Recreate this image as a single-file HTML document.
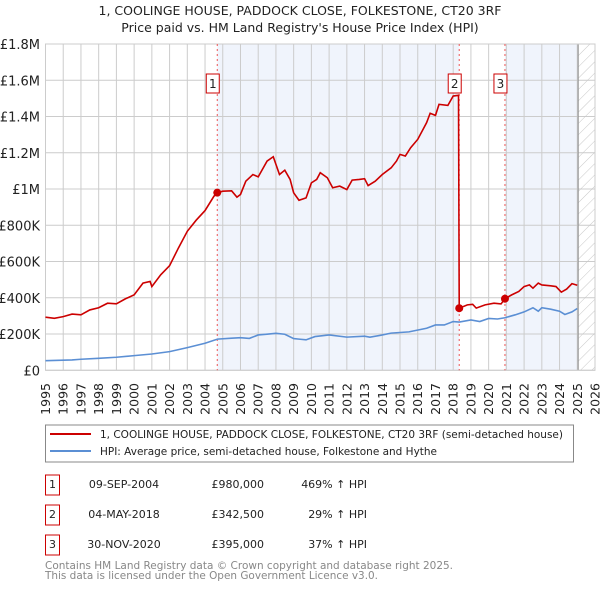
<!DOCTYPE html>
<html><head><meta charset="utf-8"><style>
body{margin:0;background:#fff;}
svg{display:block;font-family:"DejaVu Sans","Liberation Sans",sans-serif;}
</style></head><body>
<svg id="chart" width="600" height="590" viewBox="0 0 600 590" xmlns="http://www.w3.org/2000/svg">
<defs>
<pattern id="hatch" patternUnits="userSpaceOnUse" width="8" height="8" patternTransform="rotate(45)">
<line x1="0" y1="0" x2="0" y2="8" stroke="#c8c8c8" stroke-width="1"/>
</pattern>
</defs>
<text x="300" y="15" text-anchor="middle" font-size="12.5" fill="#222">1, COOLINGE HOUSE, PADDOCK CLOSE, FOLKESTONE, CT20 3RF</text>
<text x="300" y="32" text-anchor="middle" font-size="12.5" fill="#222">Price paid vs. HM Land Registry's House Price Index (HPI)</text>
<g id="plot"></g>
<g>
<rect x="45.5" y="425" width="528" height="37" fill="#fff" stroke="#888"/>
<line x1="50" y1="434" x2="91" y2="434" stroke="#cc0000" stroke-width="2"/>
<text x="100" y="438" font-size="11" fill="#222" textLength="463" lengthAdjust="spacingAndGlyphs">1, COOLINGE HOUSE, PADDOCK CLOSE, FOLKESTONE, CT20 3RF (semi-detached house)</text>
<line x1="50" y1="451" x2="91" y2="451" stroke="#5b8fd4" stroke-width="2"/>
<text x="100" y="455" font-size="11" fill="#222" textLength="337" lengthAdjust="spacingAndGlyphs">HPI: Average price, semi-detached house, Folkestone and Hythe</text>
</g>
<g id="table" font-size="11" fill="#222"></g>
<text x="45" y="569" font-size="11" fill="#888" textLength="408" lengthAdjust="spacingAndGlyphs">Contains HM Land Registry data © Crown copyright and database right 2025.</text>
<text x="45" y="579" font-size="11" fill="#888" textLength="333" lengthAdjust="spacingAndGlyphs">This data is licensed under the Open Government Licence v3.0.</text>
</svg>
<script>
const redYears=[1995.0,1995.5,1996.0,1996.5,1997.0,1997.5,1998.0,1998.5,1999.0,1999.5,2000.0,2000.5,2000.9,2001.0,2001.5,2002.0,2002.5,2003.0,2003.5,2004.0,2004.5,2004.69,2005.0,2005.5,2005.8,2006.0,2006.3,2006.7,2007.0,2007.5,2007.85,2008.2,2008.5,2008.8,2009.0,2009.3,2009.7,2010.0,2010.3,2010.5,2010.9,2011.2,2011.6,2012.0,2012.3,2012.7,2013.0,2013.2,2013.6,2014.0,2014.5,2014.8,2015.0,2015.3,2015.6,2016.0,2016.5,2016.7,2017.0,2017.2,2017.7,2018.0,2018.3,2018.34,2018.8,2019.1,2019.3,2019.8,2020.3,2020.7,2020.92,2021.3,2021.7,2022.0,2022.3,2022.5,2022.8,2023.0,2023.5,2023.8,2024.1,2024.4,2024.7,2025.0];
const redValues=[293,287,296,310,306,333,345,370,367,394,416,481,490,462,527,577,675,767,828,881,960,980,988,990,955,970,1043,1080,1067,1154,1178,1080,1104,1053,979,938,951,1034,1053,1090,1062,1007,1016,997,1049,1053,1057,1019,1043,1080,1117,1154,1191,1182,1228,1274,1366,1418,1406,1467,1461,1513,1517,342.5,361,364,343,361,370,366,395,416,435,462,471,453,481,471,466,462,431,448,478,469];
const hpiYears=[1995,1996.5,1997,1998,1999,2000,2001,2002,2003,2004,2004.7,2005.5,2006,2006.5,2007,2007.5,2008,2008.5,2009,2009.3,2009.7,2010.2,2011,2012,2013,2013.3,2014,2014.5,2015.5,2016.5,2017,2017.5,2018,2018.34,2019,2019.5,2020,2020.5,2020.92,2021.5,2022,2022.5,2022.8,2023,2023.5,2024,2024.3,2024.7,2025];
const hpiValues=[53,57,61,66,72,81,90,103,125,149,172,177,180,176,195,199,204,199,175,172,168,186,195,183,188,183,195,205,212,232,250,250,269,266,278,269,286,283,290,306,322,345,326,345,337,326,308,322,341];
const saleLabels=["1","2","3"];
const saleYears=[2004.69,2018.34,2020.92];
const salePrices=[980,342.5,395];
const saleDates=["09-SEP-2004","04-MAY-2018","30-NOV-2020"];
const salePriceText=["£980,000","£342,500","£395,000"];
const saleHpiText=["469% ↑ HPI","29% ↑ HPI","37% ↑ HPI"];
const yTicks=[0,200,400,600,800,1000,1200,1400,1600,1800];
const yTickLabels=["£0","£200K","£400K","£600K","£800K","£1M","£1.2M","£1.4M","£1.6M","£1.8M"];
const xTicks=[1995,1996,1997,1998,1999,2000,2001,2002,2003,2004,2005,2006,2007,2008,2009,2010,2011,2012,2013,2014,2015,2016,2017,2018,2019,2020,2021,2022,2023,2024,2025,2026];
const dataEndYear=2025.05;

const NS="http://www.w3.org/2000/svg";
const L=45.5,R=595,T=44,B=370.3;
const X=y=>L+(y-1995)*(R-L)/31;
const Y=v=>B-v*(B-T)/1800;
const plot=document.getElementById('plot');
function mk(tag,attrs,parent){const e=document.createElementNS(NS,tag);for(const k in attrs)e.setAttribute(k,attrs[k]);(parent||plot).appendChild(e);return e;}

let s1=mk('rect',{x:X(saleYears[0]),y:T,width:X(saleYears[1])-X(saleYears[0]),height:B-T,fill:'#f0f4fc'});


let s2=mk('rect',{x:X(saleYears[2]),y:T,width:X(dataEndYear)-X(saleYears[2]),height:B-T,fill:'#f0f4fc'});


yTicks.forEach((v,i)=>{
 const g=mk('line',{x1:L,x2:R,y1:Y(v),y2:Y(v),stroke:'#cccccc','stroke-width':1});
 
 
 const t=mk('text',{x:40,y:Y(v)+5,'text-anchor':'end','font-size':'13',fill:'#222'});
 t.textContent=yTickLabels[i];
 
 
});
xTicks.forEach(yr=>{
 const g=mk('line',{x1:X(yr),x2:X(yr),y1:T,y2:B,stroke:'#cccccc','stroke-width':1});
 
 
 const t=mk('text',{x:X(yr)+4.5,y:383,'text-anchor':'end','font-size':'12.5',fill:'#222',transform:`rotate(-90 ${X(yr)+4.5} 383)`});
 t.textContent=yr;
 
 
});
let h=mk('rect',{x:X(dataEndYear),y:T,width:R-X(dataEndYear),height:B-T,fill:'url(#hatch)'});


let hl=mk('line',{x1:X(dataEndYear),x2:X(dataEndYear),y1:T,y2:B,stroke:'#999','stroke-width':1.2});


let fr=mk('rect',{x:L,y:T,width:R-L,height:B-T,fill:'none',stroke:'#cccccc'});


saleYears.forEach(yr=>{
 const d=mk('line',{x1:X(yr),x2:X(yr),y1:T,y2:B,stroke:'#ee5555','stroke-width':1,'stroke-dasharray':'2,3'});
 
 
});
const hp=mk('polyline',{points:hpiYears.map((y,i)=>X(y)+','+Y(hpiValues[i])).join(' '),fill:'none',stroke:'#5b8fd4','stroke-width':1.6});


const rp=mk('polyline',{points:redYears.map((y,i)=>X(y)+','+Y(redValues[i])).join(' '),fill:'none',stroke:'#cc0000','stroke-width':1.6});


saleYears.forEach((yr,i)=>{
 const c=mk('circle',{cx:X(yr),cy:Y(salePrices[i]),r:4,fill:'#cc0000'});
 
 
 const bx=mk('rect',{x:X(yr)-11,y:74,width:13,height:19,fill:'#fff',stroke:'#cc0000'});
 
 
 const t=mk('text',{x:X(yr)-4.5,y:88,'text-anchor':'middle','font-size':'12',fill:'#222'});
 t.textContent=saleLabels[i];
 
 
});
const tb=document.getElementById('table');
saleLabels.forEach((lab,i)=>{
 const cy=485+i*30;
 const b=mk('rect',{x:45.5,y:cy-10,width:14,height:20,fill:'#fff',stroke:'#cc0000'},tb);
 
 
 const n=mk('text',{x:52.5,y:cy+3,'text-anchor':'middle'},tb);n.textContent=lab;
 
 
 const d=mk('text',{x:124,y:cy+3,'text-anchor':'middle'},tb);d.textContent=saleDates[i];
 
 
 const p=mk('text',{x:264,y:cy+3,'text-anchor':'end'},tb);p.textContent=salePriceText[i];
 
 
 const hh=mk('text',{x:367,y:cy+3,'text-anchor':'end'},tb);hh.textContent=saleHpiText[i];
 
 
});
</script>
</body></html>
